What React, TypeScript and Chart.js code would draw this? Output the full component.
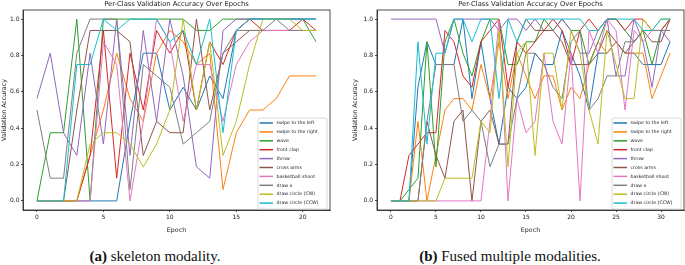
import React, { useEffect, useRef } from "react";
import { Chart, registerables } from "chart.js";

Chart.register(...registerables);

// ---------- labels ----------
const classNames = [
  "swipe to the left",
  "swipe to the right",
  "wave",
  "front clap",
  "throw",
  "cross arms",
  "basketball shoot",
  "draw x",
  "draw circle (CW)",
  "draw circle (CCW)",
];
const palette = ["#1f77b4", "#ff7f0e", "#2ca02c", "#d62728", "#9467bd", "#8c564b", "#e377c2", "#7f7f7f", "#bcbd22", "#17becf"];
const chartTitle = "Per-Class Validation Accuracy Over Epochs";
const yTickValues = [0, 0.2, 0.4, 0.6, 0.8, 1.0];
const xTicksSkeleton = [0, 5, 10, 15, 20];
const xTicksFused = [0, 5, 10, 15, 20, 25, 30];

// ---------- (a) skeleton modality ----------
const epochsSkeleton = [0, 1, 2, 3, 4, 5, 6, 7, 8, 9, 10, 11, 12, 13, 14, 15, 16, 17, 18, 19, 20, 21];
const skSwipeLeft = [0, 0, 0, 0, 0, 0, 0, 0.4375, 0.8125, 0.8125, 0.5, 0.625, 0.5, 0.6875, 0.5625, 0.9375, 1, 1, 1, 1, 1, 1];
const skSwipeRight = [0, 0, 0, 0, 0.25, 0.5, 0.8125, 0.5625, 0.4375, 0.8125, 0.9375, 0.875, 0.75, 0.8125, 0.0625, 0.375, 0.5, 0.5, 0.5625, 0.6875, 0.6875, 0.6875];
const skWave = [0, 0.375, 0.375, 1, 0, 1, 1, 1, 1, 1, 1, 1, 0.9375, 0.9375, 1, 1, 1, 1, 1, 1, 1, 0.875];
const skFrontClap = [0, 0, 0, 0, 0.25, 0.9375, 0.125, 0.8125, 0.5, 0.9375, 0.8125, 0.9375, 0.5, 0.875, 0.75, 0.9375, 1, 0.9375, 0.9375, 0.9375, 1, 0.9375];
const skThrow = [0.5625, 0.8125, 0.375, 0.25, 0.8125, 0.3125, 1, 0.25, 0.9375, 0.4375, 1, 0.6875, 0.1875, 0.125, 0.9375, 1, 1, 1, 1, 1, 1, 1];
const skCrossArms = [0, 0, 0, 0.5, 0.9375, 0.9375, 0.9375, 0.875, 0.25, 0.4375, 0.375, 0.375, 1, 0.5, 0.8125, 0.875, 0.9375, 0.9375, 0.9375, 0.9375, 0.9375, 0.9375];
const skBasketball = [0, 0, 0, 0, 0, 0.875, 0.75, 0, 0.4375, 1, 0.875, 0.4375, 0.75, 0.75, 0.4375, 0.75, 0.875, 0.9375, 0.9375, 0.9375, 0.9375, 0.9375];
const skDrawX = [0.5, 0.125, 0.125, 0.8125, 1, 1, 1, 0.0625, 0.75, 0.6875, 0.625, 0.3125, 0.375, 0.4375, 0.8125, 0.9375, 0.9375, 0.9375, 1, 0.9375, 0.9375, 0.9375];
const skCircleCW = [0, 0, 0, 0, 0.3125, 0.375, 0.375, 0.3125, 0.1875, 0.3125, 0.5, 1, 0.5, 0.875, 0.25, 0.4375, 0.75, 1, 1, 1, 0.9375, 0.9375];
const skCircleCCW = [0, 0, 0, 0.75, 0.75, 1, 0.9375, 1, 1, 1, 0.875, 0.9375, 0.75, 1, 0.375, 0.9375, 1, 1, 1, 1, 1, 1];

// ---------- (b) fused multiple modalities ----------
const epochsFused = [0, 1, 2, 3, 4, 5, 6, 7, 8, 9, 10, 11, 12, 13, 14, 15, 16, 17, 18, 19, 20, 21, 22, 23, 24, 25, 26, 27, 28, 29, 30, 31];
const fuSwipeLeft = [0, 0, 0, 0.625, 0.875, 0.75, 0.75, 0.75, 1, 0.5625, 0.875, 0.5625, 0.3125, 0.625, 0.5625, 0.625, 0.8125, 0.75, 0.75, 0.9375, 0.8125, 0.6875, 0.5, 0.8125, 0.8125, 0.875, 0.8125, 0.8125, 0.75, 0.75, 0.75, 0.875];
const fuSwipeRight = [0, 0, 0, 0.4375, 0, 0.25, 0.5, 0.5625, 0.5625, 0.5, 0.75, 0.5625, 0.875, 0.5625, 0.8125, 0.6875, 0.5625, 0.6875, 0.6875, 0.5, 0.625, 0.5625, 0.75, 0.875, 0.8125, 0.875, 0.8125, 0.8125, 0.8125, 0.5625, 0.6875, 0.8125];
const fuWave = [0, 0, 0.0625, 0.125, 0.875, 0.1875, 0.875, 1, 0.8125, 0.6875, 0.875, 1, 1, 0.75, 0.75, 0.875, 0.875, 1, 0.9375, 1, 0.9375, 0.9375, 0.75, 0.875, 1, 1, 0.9375, 0.875, 0.9375, 0.75, 0.9375, 1];
const fuFrontClap = [0, 0, 0.25, 0.3125, 0.375, 0.375, 0.9375, 0.875, 0.6875, 0.625, 0.875, 0.9375, 1, 0.625, 0.875, 0.8125, 0.875, 0.9375, 1, 0.9375, 0.75, 0.9375, 1, 0.9375, 1, 1, 0.9375, 1, 1, 0.9375, 0.9375, 1];
const fuThrow = [1, 1, 1, 1, 1, 1, 0.8125, 1, 1, 1, 1, 1, 0.9375, 1, 1, 0.9375, 1, 0.9375, 0.9375, 1, 0.9375, 0.8125, 0.8125, 0.9375, 1, 0.6875, 0.6875, 1, 0.875, 0.625, 0.9375, 0.875];
const fuCrossArms = [0, 0, 0, 0, 0.4375, 0.25, 0.125, 0.4375, 0.5, 0, 0.4375, 0.5, 0.3125, 0.3125, 0.875, 1, 0.9375, 0.9375, 0.9375, 0.875, 0.75, 0.75, 0.75, 0.8125, 0.9375, 0.875, 0.8125, 0.875, 0.9375, 0.875, 0.875, 1];
const fuBasketball = [0, 0, 0, 0, 0, 0, 0, 0, 0, 0, 0, 0.4375, 1, 0, 0.5625, 0.375, 0.4375, 0.8125, 0.4375, 0.3125, 0.8125, 0, 0.9375, 0.8125, 1, 0.9375, 0.5, 0.9375, 0.875, 0.9375, 0.9375, 0.9375];
const fuDrawX = [0, 0, 0, 0, 0.4375, 0.75, 0.75, 0.75, 0.4375, 0.5, 0.4375, 0.1875, 0.3125, 0.3125, 0.5625, 0.8125, 0.8125, 0.75, 0.625, 0.5625, 0.875, 0.9375, 0.5, 0.5625, 0.6875, 0.6875, 0.875, 0.875, 0.9375, 0.9375, 0.9375, 0.9375];
const fuCircleCW = [0, 0, 0, 0, 0, 0, 0.125, 0.125, 0.125, 0.125, 0.4375, 0.375, 0.9375, 0.1875, 0.8125, 0.875, 0.25, 0.8125, 0.8125, 0.5, 0.9375, 0.8125, 0.5, 0.3125, 0.9375, 0.75, 0.5625, 0.5625, 1, 0.9375, 1, 1];
const fuCircleCCW = [0, 0, 0, 0.875, 0.3125, 0.8125, 0.8125, 1, 1, 0.875, 1, 1, 0.5625, 1, 0.875, 1, 1, 1, 1, 1, 1, 1, 0.9375, 0.9375, 1, 1, 1, 1, 0.9375, 0.9375, 1, 1];

const FONT = '"DejaVu Sans", sans-serif';
const TEXT = "#222";

const decoPlugin = {
  id: "deco",
  afterDatasetsDraw(chart: any) {
    const { ctx, chartArea: a } = chart;
    ctx.save();
    // axes frame
    ctx.strokeStyle = "#222";
    ctx.lineWidth = 0.8;
    ctx.strokeRect(a.left, a.top, a.right - a.left, a.bottom - a.top);
    // title
    ctx.fillStyle = TEXT;
    ctx.font = `6.8px ${FONT}`;
    ctx.textAlign = "center";
    ctx.textBaseline = "middle";
    ctx.fillText(chartTitle, (a.left + a.right) / 2, a.top - 6);
    // legend
    const w = 69;
    const h = 91;
    const x0 = a.right - 3 - w;
    const y0 = a.bottom - 1 - h;
    ctx.beginPath();
    const r = 2;
    ctx.moveTo(x0 + r, y0);
    ctx.lineTo(x0 + w - r, y0);
    ctx.quadraticCurveTo(x0 + w, y0, x0 + w, y0 + r);
    ctx.lineTo(x0 + w, y0 + h - r);
    ctx.quadraticCurveTo(x0 + w, y0 + h, x0 + w - r, y0 + h);
    ctx.lineTo(x0 + r, y0 + h);
    ctx.quadraticCurveTo(x0, y0 + h, x0, y0 + h - r);
    ctx.lineTo(x0, y0 + r);
    ctx.quadraticCurveTo(x0, y0, x0 + r, y0);
    ctx.closePath();
    ctx.fillStyle = "rgba(255,255,255,0.85)";
    ctx.fill();
    ctx.strokeStyle = "#d0d0d0";
    ctx.lineWidth = 0.8;
    ctx.stroke();
    ctx.font = `4.7px ${FONT}`;
    ctx.textAlign = "left";
    chart.data.datasets.forEach((ds: any, i: number) => {
      const y = y0 + 5 + i * 8.9;
      ctx.strokeStyle = ds.borderColor;
      ctx.lineWidth = 1.5;
      ctx.beginPath();
      ctx.moveTo(x0 + 1.5, y);
      ctx.lineTo(x0 + 15, y);
      ctx.stroke();
      ctx.fillStyle = TEXT;
      ctx.fillText(ds.label, x0 + 18.5, y);
    });
    ctx.restore();
  },
};

type PanelProps = {
  epochs: number[];
  series: number[][];
  xMin: number;
  xMax: number;
  xTicks: number[];
  yAxisWidth: number;
  yTitlePad: number;
  yTickPad: number;
  padRight: number;
  width: number;
  height: number;
};

function makeConfig(p: PanelProps): any {
  const n = p.series.length;
  const datasets = p.series.map((s, i) => ({
    label: classNames[i],
    data: p.epochs.map((e, j) => ({ x: e, y: s[j] })),
    borderColor: palette[i],
    backgroundColor: palette[i],
    borderWidth: 1,
    pointRadius: 0,
    pointHoverRadius: 0,
    tension: 0,
    fill: false,
    order: n - 1 - i,
  }));
  const axisGrid = { display: true, drawOnChartArea: false, drawTicks: true, tickLength: 2, color: "#222", lineWidth: 0.8 };
  return {
    type: "line",
    data: { datasets },
    options: {
      animation: false,
      responsive: false,
      maintainAspectRatio: false,
      events: [],
      layout: { padding: { top: 10, right: p.padRight, left: 0, bottom: 0 } },
      plugins: { legend: { display: false }, tooltip: { enabled: false }, title: { display: false } },
      scales: {
        x: {
          type: "linear",
          min: p.xMin,
          max: p.xMax,
          afterBuildTicks: (s: any) => {
            s.ticks = p.xTicks.map((v) => ({ value: v }));
          },
          afterFit: (s: any) => {
            s.height = 30;
          },
          ticks: { font: { family: FONT, size: 6 }, color: TEXT, padding: 2, maxRotation: 0, autoSkip: false, callback: (v: any) => String(v) },
          grid: axisGrid,
          border: { display: true, color: "#222", width: 0.8 },
          title: { display: true, text: "Epoch", font: { family: FONT, size: 6.3 }, color: TEXT, padding: { top: 0, bottom: 6.3 } },
        },
        y: {
          type: "linear",
          min: -0.05,
          max: 1.05,
          afterBuildTicks: (s: any) => {
            s.ticks = yTickValues.map((v) => ({ value: v }));
          },
          afterFit: (s: any) => {
            s.width = p.yAxisWidth;
          },
          ticks: { font: { family: FONT, size: 6 }, color: TEXT, padding: p.yTickPad, autoSkip: false, callback: (v: any) => Number(v).toFixed(1) },
          grid: axisGrid,
          border: { display: true, color: "#222", width: 0.8 },
          title: { display: true, text: "Validation Accuracy", font: { family: FONT, size: 6.3 }, color: TEXT, padding: { top: p.yTitlePad, bottom: 0 } },
        },
      },
    },
    plugins: [decoPlugin],
  };
}

function Panel(props: PanelProps & { left: number }) {
  const ref = useRef<HTMLCanvasElement | null>(null);
  useEffect(() => {
    if (!ref.current) return;
    const chart = new Chart(ref.current, makeConfig(props));
    return () => chart.destroy();
  }, []);
  return (
    <canvas
      ref={ref}
      width={props.width}
      height={props.height}
      style={{ position: "absolute", left: props.left, top: 0, width: props.width, height: props.height }}
    />
  );
}

const captionStyle: React.CSSProperties = {
  position: "absolute",
  top: 248,
  fontFamily: '"Liberation Serif", "Times New Roman", serif',
  fontSize: 15,
  color: "#111",
  whiteSpace: "nowrap",
  transform: "translateX(-50%)",
  lineHeight: "17px",
};

export default function App() {
  return (
    <div style={{ position: "absolute", left: 0, top: 0, width: 685, height: 265, background: "#fff", overflow: "hidden" }}>
      <Panel
        left={0}
        width={340}
        height={240}
        epochs={epochsSkeleton}
        series={[skSwipeLeft, skSwipeRight, skWave, skFrontClap, skThrow, skCrossArms, skBasketball, skDrawX, skCircleCW, skCircleCCW]}
        xMin={-1.05}
        xMax={22.05}
        xTicks={xTicksSkeleton}
        yAxisWidth={23}
        yTitlePad={0.3}
        yTickPad={1.5}
        padRight={10}
      />
      <Panel
        left={340}
        width={345}
        height={240}
        epochs={epochsFused}
        series={[fuSwipeLeft, fuSwipeRight, fuWave, fuFrontClap, fuThrow, fuCrossArms, fuBasketball, fuDrawX, fuCircleCW, fuCircleCCW]}
        xMin={-1.55}
        xMax={32.55}
        xTicks={xTicksFused}
        yAxisWidth={37}
        yTitlePad={11.3}
        yTickPad={2}
        padRight={1}
      />
      <div style={{ ...captionStyle, left: 155 }}>
        <b>(a)</b> skeleton modality.
      </div>
      <div style={{ ...captionStyle, left: 510 }}>
        <b>(b)</b> Fused multiple modalities.
      </div>
    </div>
  );
}
